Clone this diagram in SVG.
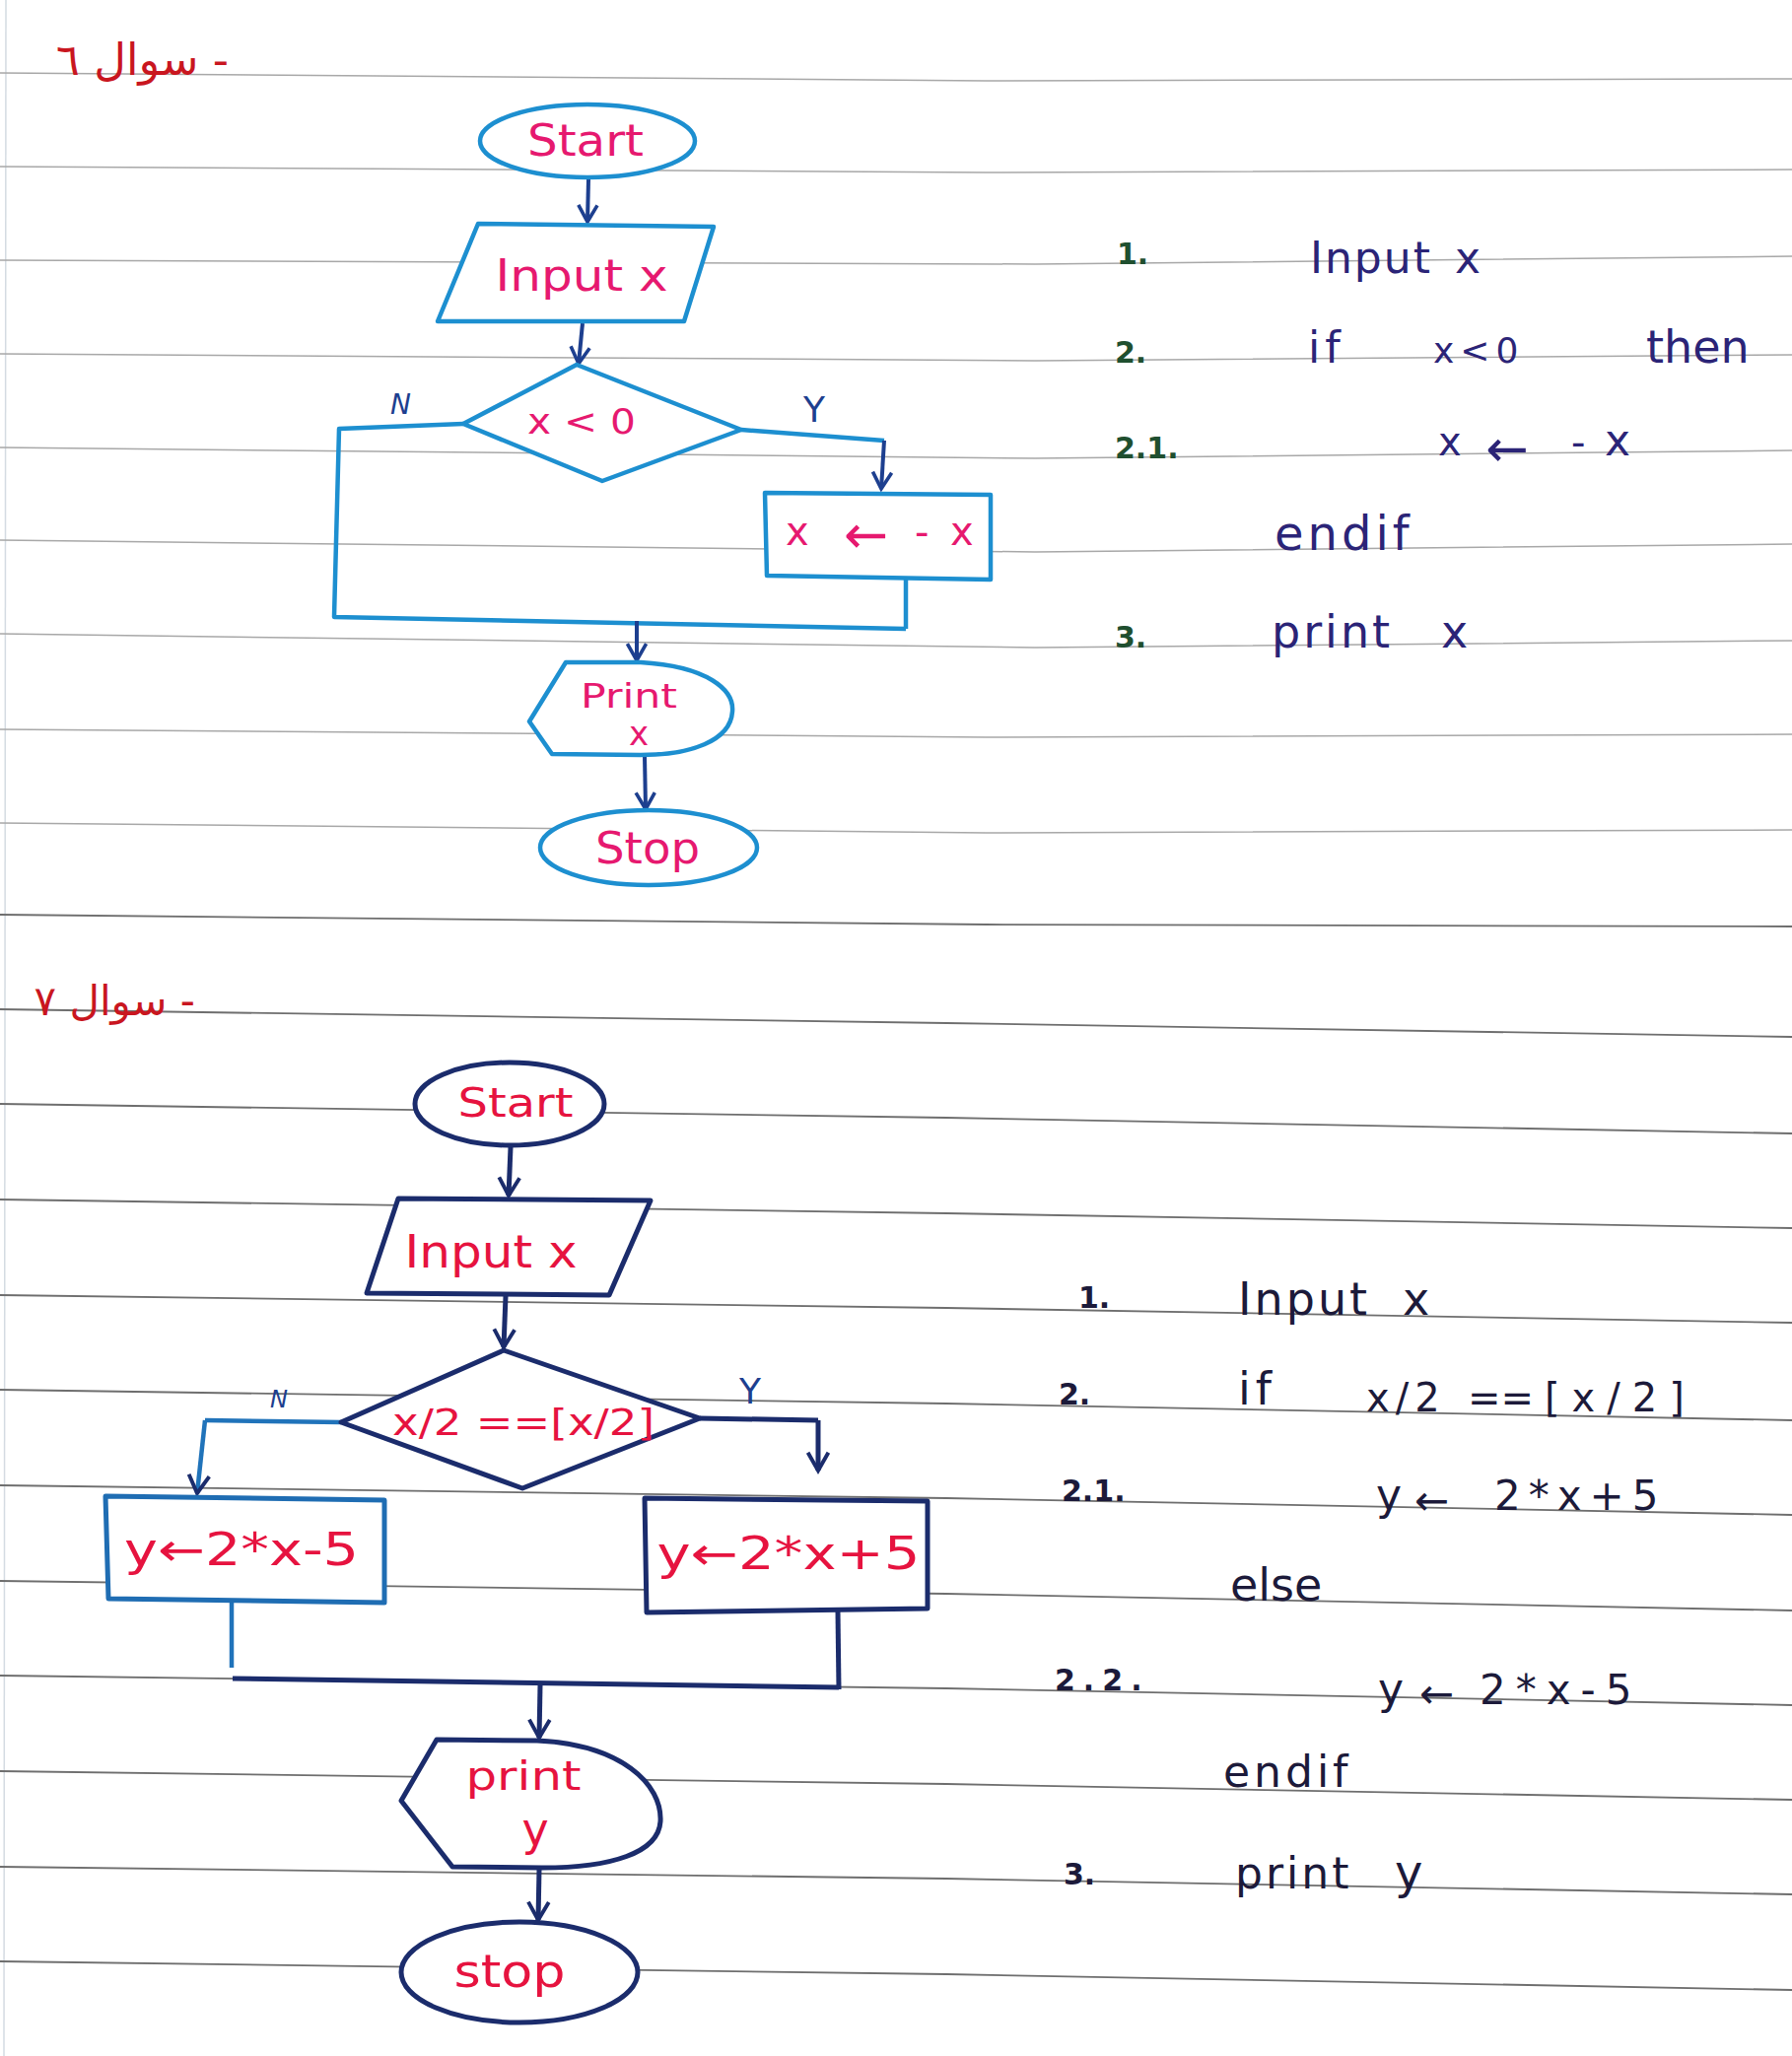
<svg xmlns="http://www.w3.org/2000/svg" width="1818" height="2086" viewBox="0 0 1818 2086">
<defs>
<style>
.rule{fill:none;stroke:#a8a8a8;stroke-width:1.5}
.rule2{fill:none;stroke:#6e6e6e;stroke-width:1.8}
.t1{fill:#ffffff;stroke:#1d8fd0;stroke-width:4.5;stroke-linejoin:round}
.t2{fill:#ffffff;stroke:#1b2c6c;stroke-width:5;stroke-linejoin:round}
.t2c{fill:#ffffff;stroke:#1f6db3;stroke-width:5;stroke-linejoin:round}
.c1{fill:none;stroke:#1d8fd0;stroke-width:4.5;stroke-linejoin:round}
.c1n{fill:none;stroke:#1d3f8f;stroke-width:4}
.c2{fill:none;stroke:#1b2c6c;stroke-width:5;stroke-linejoin:round}
.c2c{fill:none;stroke:#2073ba;stroke-width:4.5;stroke-linejoin:round}
text{font-family:"DejaVu Sans","Liberation Sans",sans-serif}
.pk{fill:#e6196f}
.rd{fill:#e6133f}
.lb{fill:#1d3f8f}
.ps{fill:#2b2477}
.pn{fill:#1f4f2f;font-weight:bold}
.pb{fill:#1c1a3a}
.pbn{fill:#1c1a3a;font-weight:bold}
.ar{fill:#c9161f}
</style>
<marker id="ah1" viewBox="0 0 20 20" markerWidth="24" markerHeight="24" refX="17" refY="10" orient="auto" markerUnits="userSpaceOnUse">
<path d="M3,2 L17,10 L3,18" fill="none" stroke="#1d3f8f" stroke-width="3"/>
</marker>
<marker id="ah2" viewBox="0 0 20 20" markerWidth="26" markerHeight="26" refX="17" refY="10" orient="auto" markerUnits="userSpaceOnUse">
<path d="M3,2 L17,10 L3,18" fill="none" stroke="#1b2c6c" stroke-width="3"/>
</marker>
</defs>
<rect width="1818" height="2086" fill="#ffffff"/>

<g id="ruled-lines">
<line x1="6" y1="0" x2="4" y2="2086" stroke="#d4dbe2" stroke-width="1.5"/>
<polyline class="rule" points="0,74 1000,82 1818,80"/>
<polyline class="rule" points="0,169 1000,175 1818,172"/>
<polyline class="rule" points="0,264 1050,268 1818,260"/>
<polyline class="rule" points="0,359 1050,366 1818,360"/>
<polyline class="rule" points="0,454 1050,465 1818,457"/>
<polyline class="rule" points="0,548 1050,560 1818,552"/>
<polyline class="rule" points="0,643 1050,657 1818,650"/>
<polyline class="rule" points="0,740 1000,748 1818,745"/>
<polyline class="rule" points="0,835 1000,845 1818,842"/>
<polyline class="rule2" points="0,928 1000,938 1818,940"/>
<polyline class="rule2" points="0,1024 960,1038 1818,1052"/>
<polyline class="rule2" points="0,1120 960,1134 1818,1150"/>
<polyline class="rule2" points="0,1217 960,1231 1818,1246"/>
<polyline class="rule2" points="0,1314 960,1327 1818,1342"/>
<polyline class="rule2" points="0,1410 960,1424 1818,1441"/>
<polyline class="rule2" points="0,1507 960,1520 1818,1537"/>
<polyline class="rule2" points="0,1604 960,1617 1818,1634"/>
<polyline class="rule2" points="0,1700 960,1713 1818,1730"/>
<polyline class="rule2" points="0,1797 960,1810 1818,1826"/>
<polyline class="rule2" points="0,1894 960,1906 1818,1922"/>
<polyline class="rule2" points="0,1990 960,2003 1818,2019"/>
</g>

<g id="headings">
<text class="ar" x="232" y="76" font-size="45" direction="rtl" text-anchor="start">- سوال ٦</text>
<text class="ar" x="198" y="1030" font-size="42" direction="rtl" text-anchor="start">- سوال ٧</text>
</g>

<g id="connectors">
<line class="c1n" x1="597" y1="182" x2="596" y2="225" marker-end="url(#ah1)"/>
<line class="c1n" x1="591" y1="328" x2="587" y2="369" marker-end="url(#ah1)"/>
<polyline class="c1" points="752,436 897,447"/>
<line class="c1n" x1="897" y1="447" x2="894" y2="496" marker-end="url(#ah1)"/>
<polyline class="c1" points="470,430 344,435 339,626 919,638"/>
<line class="c1" x1="919" y1="588" x2="919" y2="638"/>
<line class="c1n" x1="646" y1="630" x2="646" y2="670" marker-end="url(#ah1)"/>
<line class="c1n" x1="654" y1="767" x2="655" y2="821" marker-end="url(#ah1)"/>
<text class="lb" x="396" y="420" font-size="28" font-style="italic">N</text>
<text class="lb" x="815" y="428" font-size="36">Y</text>

<line class="c2" x1="518" y1="1164" x2="516" y2="1213" marker-end="url(#ah2)"/>
<line class="c2" x1="513" y1="1315" x2="511" y2="1367" marker-end="url(#ah2)"/>
<polyline class="c2c" points="346,1443 208,1441"/>
<line class="c2c" x1="208" y1="1441" x2="200" y2="1515" marker-end="url(#ah2)"/>
<polyline class="c2" points="710,1439 830,1441"/>
<line class="c2" x1="830" y1="1441" x2="830" y2="1492" marker-end="url(#ah2)"/>
<line class="c2c" x1="235" y1="1625" x2="235" y2="1692"/>
<line class="c2" x1="850" y1="1635" x2="851" y2="1714"/>
<line class="c2" x1="236" y1="1703" x2="851" y2="1712"/>
<line class="c2" x1="548" y1="1710" x2="547" y2="1763" marker-end="url(#ah2)"/>
<line class="c2" x1="547" y1="1897" x2="546" y2="1948" marker-end="url(#ah2)"/>
<text class="lb" x="274" y="1428" font-size="24" font-style="italic">N</text>
<text class="lb" x="750" y="1424" font-size="36">Y</text>
</g>

<g id="q6-start">
<ellipse class="t1" cx="596" cy="143" rx="109" ry="37"/>
<text class="pk" x="594" y="158" font-size="44" text-anchor="middle" textLength="118" lengthAdjust="spacingAndGlyphs">Start</text>
</g>
<g id="q6-input">
<polygon class="t1" points="485,227 724,230 694,326 444,326"/>
<text class="pk" x="590" y="295" font-size="44" text-anchor="middle" textLength="175" lengthAdjust="spacingAndGlyphs">Input x</text>
</g>
<g id="q6-decision">
<polygon class="t1" points="585,370 752,436 611,488 470,430"/>
<text class="pk" x="590" y="440" font-size="36" text-anchor="middle" textLength="110" lengthAdjust="spacingAndGlyphs">x &lt; 0</text>
</g>
<g id="q6-assign">
<polygon class="t1" points="776,500 1005,502 1005,588 778,584"/>
<text class="pk" font-size="40"><tspan x="797" y="553">x </tspan><tspan x="856" y="561" font-size="54">← </tspan><tspan x="928" y="554">- </tspan><tspan x="964" y="553">x</tspan></text>
</g>
<g id="q6-print">
<path class="t1" d="M574,672 L650,672 C718,676 745,700 743,722 C741,752 700,766 650,766 L560,765 L537,732 Z"/>
<text class="pk" x="638" y="718" font-size="34" text-anchor="middle" textLength="98" lengthAdjust="spacingAndGlyphs">Print</text>
<text class="pk" x="648" y="756" font-size="34" text-anchor="middle">x</text>
</g>
<g id="q6-stop">
<ellipse class="t1" cx="658" cy="860" rx="110" ry="38"/>
<text class="pk" x="657" y="876" font-size="44" text-anchor="middle" textLength="106" lengthAdjust="spacingAndGlyphs">Stop</text>
</g>

<g id="q6-pseudocode">
<text class="pn" x="1133" y="268" font-size="30">1.</text>
<text class="ps" y="277" font-size="44"><tspan x="1329" letter-spacing="2">Input </tspan><tspan x="1476">x</tspan></text>
<text class="pn" x="1131" y="368" font-size="30">2.</text>
<text class="ps" y="368" font-size="44"><tspan x="1327" letter-spacing="5">if </tspan><tspan x="1454" font-size="36" letter-spacing="6">x&lt;0 </tspan><tspan x="1670" font-size="46">then</tspan></text>
<text class="pn" x="1131" y="465" font-size="30">2.1.</text>
<text class="ps" font-size="40"><tspan x="1459" y="462">x </tspan><tspan x="1507" y="473" font-size="52">← </tspan><tspan x="1594" y="463">- </tspan><tspan x="1628" y="462" font-size="44">x</tspan></text>
<text class="ps" x="1293" y="558" font-size="48" letter-spacing="4">endif</text>
<text class="pn" x="1131" y="657" font-size="30">3.</text>
<text class="ps" y="657" font-size="46"><tspan x="1290" letter-spacing="3">print </tspan><tspan x="1462">x</tspan></text>
</g>

<g id="q7-start">
<ellipse class="t2" cx="517" cy="1120" rx="96" ry="42"/>
<text class="rd" x="523" y="1133" font-size="40" text-anchor="middle" textLength="117" lengthAdjust="spacingAndGlyphs">Start</text>
</g>
<g id="q7-input">
<polygon class="t2" points="404,1216 660,1218 618,1314 372,1312"/>
<text class="rd" x="498" y="1286" font-size="46" text-anchor="middle" textLength="175" lengthAdjust="spacingAndGlyphs">Input x</text>
</g>
<g id="q7-decision">
<polygon class="t2" points="511,1370 710,1439 530,1510 346,1443"/>
<text class="rd" x="531" y="1456" font-size="38" text-anchor="middle" textLength="266" lengthAdjust="spacingAndGlyphs">x/2 ==[x/2]</text>
</g>
<g id="q7-else">
<polygon class="t2c" points="107,1518 390,1522 390,1626 110,1622"/>
<text class="rd" x="245" y="1588" font-size="46" text-anchor="middle" textLength="238" lengthAdjust="spacingAndGlyphs">y←2*x-5</text>
</g>
<g id="q7-then">
<polygon class="t2" points="654,1520 941,1523 941,1632 656,1636"/>
<text class="rd" x="800" y="1592" font-size="46" text-anchor="middle" textLength="267" lengthAdjust="spacingAndGlyphs">y←2*x+5</text>
</g>
<g id="q7-print">
<path class="t2" d="M443,1765 L545,1766 C630,1770 672,1810 670,1848 C668,1880 620,1895 550,1895 L459,1894 L407,1827 Z"/>
<text class="rd" x="531" y="1816" font-size="40" text-anchor="middle" textLength="117" lengthAdjust="spacingAndGlyphs">print</text>
<text class="rd" x="543" y="1872" font-size="46" text-anchor="middle">y</text>
</g>
<g id="q7-stop">
<ellipse class="t2" cx="527" cy="2001" rx="120" ry="51"/>
<text class="rd" x="517" y="2016" font-size="46" text-anchor="middle" textLength="113" lengthAdjust="spacingAndGlyphs">stop</text>
</g>

<g id="q7-pseudocode">
<text class="pbn" x="1094" y="1327" font-size="30">1.</text>
<text class="pb" y="1334" font-size="46"><tspan x="1256" letter-spacing="3">Input </tspan><tspan x="1423">x</tspan></text>
<text class="pbn" x="1074" y="1425" font-size="30">2.</text>
<text class="pb" y="1432" font-size="40"><tspan x="1256" y="1425" font-size="46" letter-spacing="5">if </tspan><tspan x="1386" y="1432" letter-spacing="6">x/2 </tspan><tspan x="1489">== </tspan><tspan x="1567" letter-spacing="12">[x/2]</tspan></text>
<text class="pbn" x="1077" y="1523" font-size="30">2.1.</text>
<text class="pb" y="1532" font-size="42"><tspan x="1396" font-size="44">y </tspan><tspan x="1435" y="1537" font-size="42">← </tspan><tspan x="1516" y="1532" letter-spacing="8">2*x+5</tspan></text>
<text class="pb" x="1248" y="1624" font-size="46">else</text>
<text class="pbn" x="1070" y="1715" font-size="30" letter-spacing="8">2.2.</text>
<text class="pb" y="1729" font-size="42"><tspan x="1398" font-size="44">y </tspan><tspan x="1440" y="1733" font-size="42">← </tspan><tspan x="1501" y="1729" letter-spacing="10">2*x-5</tspan></text>
<text class="pb" x="1241" y="1813" font-size="44" letter-spacing="4">endif</text>
<text class="pbn" x="1079" y="1912" font-size="30">3.</text>
<text class="pb" y="1916" font-size="44"><tspan x="1253" letter-spacing="3">print </tspan><tspan x="1415" font-size="48">y</tspan></text>
</g>
</svg>
